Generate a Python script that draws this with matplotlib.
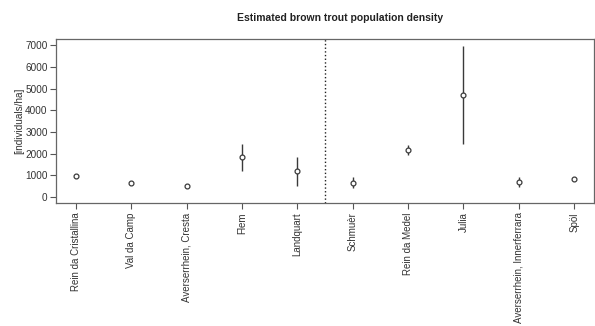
import matplotlib
matplotlib.use('Agg')
from matplotlib import pyplot as plt
import numpy as np

sites = ['Rein da Cristallina', 'Val da Camp', 'Averserrhein, Cresta', 'Flem',
         'Landquart', 'Schmuèr', 'Rein da Medel', 'Julia',
         'Averserrhein, Innerferrara', 'Spöl']
density = [960, 650, 480, 1820, 1200, 630, 2170, 4700, 680, 830]
lower = [960, 650, 480, 1200, 500, 390, 1950, 2430, 430, 830]
upper = [960, 650, 480, 2440, 1860, 930, 2400, 6980, 930, 830]

plt.rcParams['font.family'] = ['Liberation Sans', 'DejaVu Sans']

fig = plt.figure(figsize=(5.95, 3.26), dpi=100)
ax = fig.add_axes([0.0941, 0.378, 0.9042, 0.501])

x = np.arange(1, len(sites) + 1)
col = '#3a3a3a'
ax.vlines(x, lower, upper, color=col, lw=1.0)
ax.plot(x, density, 'o', mfc='white', mec=col, ms=3.5, mew=0.9, ls='none')
ax.axvline(5.5, color='#222222', lw=1.0, ls=':')

ax.set_xlim(0.64, 10.36)
ax.set_ylim(-280, 7280)
ax.set_xticks(x)
ax.set_xticklabels(sites, rotation=90, fontsize=7.0, color='#333333')
ax.set_yticks(range(0, 7001, 1000))
ax.tick_params(axis='y', labelsize=7.2, labelcolor='#333333', length=4, color='#555555', pad=2)
ax.tick_params(axis='x', length=4, color='#555555', pad=3)
for s in ax.spines.values():
    s.set_color('#666666')
    s.set_linewidth(0.9)

ax.set_ylabel('[individuals/ha]', fontsize=7.2, color='#333333', labelpad=1)
fig.text(0.571, 0.945, 'Estimated brown trout population density', ha='center',
         va='center', fontsize=7.5, fontweight='bold', color='#222222')

plt.savefig('out.png', dpi=100)
